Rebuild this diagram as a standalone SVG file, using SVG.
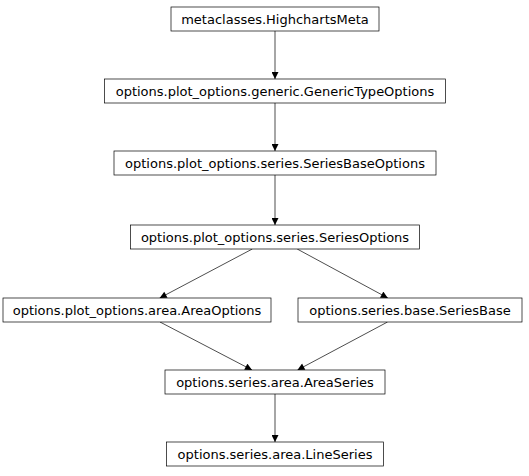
<svg xmlns="http://www.w3.org/2000/svg" width="529" height="476" viewBox="0 0 529 476">
<defs>
<style>
.n rect{fill:#fff;stroke:#000;stroke-width:0.7}
.n text{font-family:"DejaVu Sans",sans-serif;font-size:13px;text-anchor:middle;fill:#000}
.e{stroke:#000;stroke-width:0.7;fill:none;marker-end:url(#a)}
</style>
<marker id="a" viewBox="0 0 10 10" refX="10" refY="5" markerWidth="8" markerHeight="7" markerUnits="userSpaceOnUse" orient="auto">
<path d="M0,0 L10,5 L0,10 z" fill="#000"/>
</marker>
</defs>
<rect width="529" height="476" fill="#fff"/>
<g id="edges">
<line class="e" x1="275" y1="31" x2="275" y2="79"/>
<line class="e" x1="275" y1="103" x2="275" y2="151"/>
<line class="e" x1="275" y1="175" x2="275" y2="225"/>
<line class="e" x1="252.3" y1="249" x2="159.7" y2="298"/>
<line class="e" x1="297.2" y1="249" x2="387.8" y2="298"/>
<line class="e" x1="160" y1="322" x2="252" y2="370"/>
<line class="e" x1="387.5" y1="322" x2="297.5" y2="370"/>
<line class="e" x1="275" y1="394" x2="275" y2="442"/>
</g>
<g id="HighchartsMeta" class="n"><rect x="171" y="7" width="208" height="24"/><text x="275" y="23.5">metaclasses.HighchartsMeta</text></g>
<g id="GenericTypeOptions" class="n"><rect x="104.5" y="79" width="341" height="24"/><text x="275" y="95.5">options.plot_options.generic.GenericTypeOptions</text></g>
<g id="SeriesBaseOptions" class="n"><rect x="114" y="151" width="322" height="24"/><text x="275" y="167.5">options.plot_options.series.SeriesBaseOptions</text></g>
<g id="SeriesOptions" class="n"><rect x="130.5" y="225" width="289" height="24"/><text x="275" y="241.5">options.plot_options.series.SeriesOptions</text></g>
<g id="AreaOptions" class="n"><rect x="3" y="298" width="268" height="24"/><text x="137" y="314.5">options.plot_options.area.AreaOptions</text></g>
<g id="SeriesBase" class="n"><rect x="298" y="298" width="224" height="24"/><text x="410" y="314.5">options.series.base.SeriesBase</text></g>
<g id="AreaSeries" class="n"><rect x="165" y="370" width="220" height="24"/><text x="275" y="386.5">options.series.area.AreaSeries</text></g>
<g id="LineSeries" class="n"><rect x="166.5" y="442" width="217" height="24"/><text x="275" y="458.5">options.series.area.LineSeries</text></g>
</svg>
